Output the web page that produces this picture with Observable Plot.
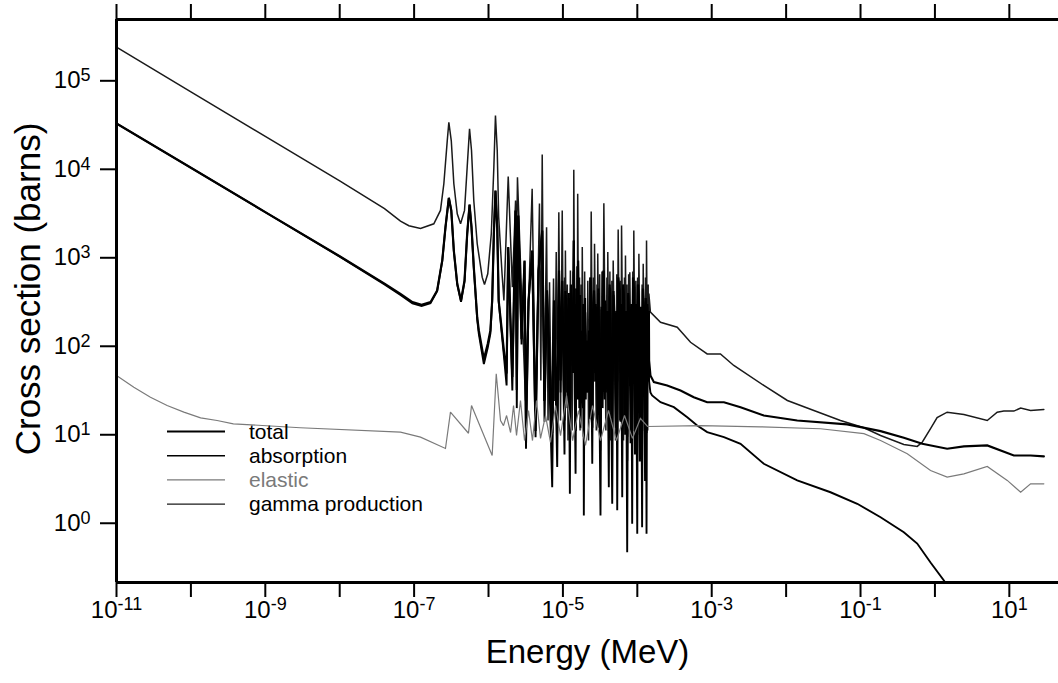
<!DOCTYPE html>
<html>
<head>
<meta charset="utf-8">
<script src="https://cdn.jsdelivr.net/npm/d3@7"></script>
<script src="https://cdn.jsdelivr.net/npm/@observablehq/plot@0.6"></script>
<style>
  html, body { margin: 0; padding: 0; background: #fff; }
  #chart svg { display: block; }
</style>
</head>
<body>
<div id="chart"></div>
<script>
// ---------------- data (energy in MeV, cross section in barns) ----------------
const xDomain = [1e-11, 45.8];
const yDomain = [0.214, 4.93e5];

const xTicks = [1e-11, 1e-10, 1e-9, 1e-8, 1e-7, 1e-6, 1e-5, 1e-4, 1e-3, 1e-2, 1e-1, 1, 1e1];
const xTickLabels = ["10^-11", "", "10^-9", "", "10^-7", "", "10^-5", "", "10^-3", "", "10^-1", "", "10^1"];
const yTicks = [1, 10, 100, 1e3, 1e4, 1e5];
const yTickLabels = ["10^0", "10^1", "10^2", "10^3", "10^4", "10^5"];

const xAxisLabel = "Energy (MeV)";
const yAxisLabel = "Cross section (barns)";
const legendNames = ["total", "absorption", "elastic", "gamma production"];

const gammaProduction = [
  [1e-11, 2.4e5], [1e-10, 7.5e4], [1e-9, 2.35e4], [1e-8, 7.4e3], [4e-8, 3.6e3], [6.56e-8, 2.6e3],
  [8.5e-8, 2.3e3], [1.22e-7, 2.14e3], [1.84e-7, 2.42e3], [2.26e-7, 3.43e3], [2.51e-7, 6.86e3], [2.79e-7, 2.11e4],
  [2.93e-7, 3.4e4], [3.16e-7, 2.1e4], [3.42e-7, 6.86e3], [3.8e-7, 3.14e3], [4.21e-7, 2.42e3],
  [4.76e-7, 3.43e3], [5.17e-7, 1.06e4], [5.56e-7, 2.87e4], [5.91e-7, 1.63e4], [6.34e-7, 4.44e3],
  [7.05e-7, 1.44e3], [8.22e-7, 604], [8.83e-7, 499], [9.77e-7, 660], [1.09e-6, 1.87e3],
  [1.18e-6, 1.06e4], [1.24e-6, 4.06e4], [1.31e-6, 1.63e4], [1.37e-6, 2.88e3], [1.52e-6, 660],
  [1.61e-6, 329], [1.84e-6, 8.3e3], [2.09e-6, 466], [2.31e-6, 4.44e3], [2.38e-6, 1.0e3],
  [2.45e-6, 8.15e3], [2.82e-6, 277], [3.14e-6, 24.4], [3.86e-6, 6.03e3], [4.29e-6, 14.5],
  [4.84e-6, 4.11e3], [5.05e-6, 41], [5.27e-6, 1.47e4], [5.57e-6, 24], [6.03e-6, 2.22e3],
  [6.31e-6, 14.5], [6.61e-6, 530], [7.03e-6, 8.6], [7.48e-6, 583], [7.78e-6, 24],
  [8.13e-6, 1.16e3], [8.45e-6, 18.8], [8.81e-6, 3.27e3], [9.29e-6, 14.5], [9.79e-6, 3.42e3],
  [1.03e-5, 11.2], [1.055e-5, 600], [1.065e-5, 40], [1.08e-5, 1.21e3], [1.12e-5, 30], [1.145e-5, 500],
  [1.17e-5, 8.6], [1.22e-5, 400], [1.24e-5, 30], [1.26e-5, 718], [1.33e-5, 11.2], [1.37e-5, 700],
  [1.38e-5, 60], [1.40e-5, 9.86e3], [1.45e-5, 30], [1.47e-5, 450], [1.49e-5, 14.5], [1.54e-5, 800],
  [1.56e-5, 50], [1.58e-5, 5.29e3], [1.64e-5, 25], [1.67e-5, 600], [1.70e-5, 11.2], [1.76e-5, 500],
  [1.79e-5, 40], [1.82e-5, 1.32e3], [1.91e-5, 6.65], [1.96e-5, 700], [1.99e-5, 45], [2.01e-5, 243],
  [2.11e-5, 30], [2.16e-5, 550], [2.21e-5, 8.6], [2.30e-5, 600], [2.35e-5, 40], [2.40e-5, 3.33e3],
  [2.52e-5, 14.5], [2.58e-5, 600], [2.62e-5, 40], [2.66e-5, 1.44e3], [2.81e-5, 11.2], [2.87e-5, 500],
  [2.90e-5, 35], [2.94e-5, 1.12e3], [3.05e-5, 30], [3.12e-5, 650], [3.20e-5, 6.65], [3.35e-5, 700],
  [3.45e-5, 40], [3.55e-5, 4.14e3], [3.78e-5, 11.2], [3.90e-5, 600], [3.95e-5, 50], [4.01e-5, 1.16e3],
  [4.18e-5, 30], [4.28e-5, 700], [4.36e-5, 8.6], [4.55e-5, 550], [4.65e-5, 40], [4.74e-5, 931],
  [5.09e-5, 8.6], [5.30e-5, 650], [5.42e-5, 40], [5.53e-5, 2.09e3], [5.82e-5, 14.5], [5.98e-5, 550],
  [6.06e-5, 45], [6.14e-5, 2.32e3], [6.53e-5, 8.6], [6.72e-5, 600], [6.82e-5, 40], [6.93e-5, 1.06e3],
  [7.15e-5, 30], [7.25e-5, 500], [7.38e-5, 5.1], [7.65e-5, 650], [7.78e-5, 45], [7.93e-5, 687],
  [8.43e-5, 8.6], [8.70e-5, 700], [8.85e-5, 50], [8.97e-5, 2.03e3], [9.35e-5, 30], [9.55e-5, 550],
  [9.75e-5, 6.65], [1.01e-4, 600], [1.03e-4, 45], [1.05e-4, 1.11e3], [1.12e-4, 6.65], [1.16e-4, 500],
  [1.18e-4, 40], [1.20e-4, 855], [1.26e-4, 8.6], [1.29e-4, 600], [1.31e-4, 40], [1.33e-4, 1.57e3],
  [1.38e-4, 11.2], [1.40e-4, 500], [1.41e-4, 60], [1.43e-4, 395], [1.50e-4, 243],
  [2.05e-4, 187], [3.44e-4, 164],
  [5.19e-4, 111], [8.69e-4, 82], [1.31e-3, 82], [1.98e-3, 60.7], [5.01e-3, 36.1],
  [1.04e-2, 24.4], [2.36e-2, 18.8], [5.38e-2, 14.5], [0.111, 12.0], [0.186, 9.8],
  [0.382, 7.76], [0.578, 7.38], [0.675, 8.24], [0.873, 11.7], [1.07, 15.6],
  [1.46, 18.0], [2.45, 16.9], [5.05, 14.5], [6.87, 18.0], [8.43, 18.5],
  [11.5, 18.5], [14.2, 20.0], [19.3, 18.8], [29.1, 19.3]
];

const total = [
  [1e-11, 3.3e4], [1e-10, 1.04e4], [1e-9, 3.28e3], [1e-8, 1.04e3], [4e-8, 510], [6.56e-8, 390],
  [9.5e-8, 315], [1.26e-7, 295], [1.66e-7, 315], [2.04e-7, 427], [2.39e-7, 933], [2.64e-7, 2.22e3],
  [2.93e-7, 4.76e3], [3.16e-7, 3.43e3], [3.42e-7, 1.2e3], [3.8e-7, 508], [4.27e-7, 329],
  [4.76e-7, 553], [5.17e-7, 1.87e3], [5.56e-7, 4.0e3], [5.91e-7, 2.22e3], [6.34e-7, 784],
  [7.05e-7, 213], [7.41e-7, 151], [8.66e-7, 72], [9.77e-7, 107], [1.06e-6, 151],
  [1.12e-6, 329], [1.18e-6, 1.87e3], [1.24e-6, 5.75e3], [1.31e-6, 2.22e3], [1.37e-6, 329],
  [1.61e-6, 90], [1.75e-6, 49], [1.84e-6, 1.32e3], [2.09e-6, 45], [2.31e-6, 3.43e3],
  [2.40e-6, 32], [2.51e-6, 3.01e3], [2.78e-6, 120], [3.05e-6, 930], [3.19e-6, 12],
  [3.45e-6, 330], [3.86e-6, 1.21e3], [4.29e-6, 11], [4.70e-6, 718], [5.27e-6, 2.03e3],
  [5.66e-6, 24.4], [6.11e-6, 428], [7.18e-6, 10.5], [7.59e-6, 330], [8.38e-6, 12],
  [8.87e-6, 718], [9.29e-6, 41], [9.79e-6, 550],
  [1.05e-5, 14.5], [1.08e-5, 420], [1.10e-5, 60], [1.12e-5, 254], [1.17e-5, 30], [1.20e-5, 350],
  [1.24e-5, 10], [1.28e-5, 500], [1.30e-5, 80], [1.32e-5, 196], [1.36e-5, 60], [1.40e-5, 1.57e3],
  [1.44e-5, 90], [1.46e-5, 300], [1.48e-5, 11], [1.54e-5, 450], [1.57e-5, 70], [1.60e-5, 931],
  [1.66e-5, 40], [1.70e-5, 380], [1.73e-5, 24.4], [1.80e-5, 150], [1.85e-5, 45], [1.88e-5, 300],
  [1.91e-5, 9.5], [1.98e-5, 350], [2.02e-5, 60], [2.07e-5, 116], [2.15e-5, 40], [2.24e-5, 151],
  [2.30e-5, 30], [2.36e-5, 600], [2.42e-5, 50], [2.48e-5, 12], [2.55e-5, 250], [2.62e-5, 428],
  [2.72e-5, 50], [2.76e-5, 300], [2.83e-5, 151], [2.90e-5, 35], [3.00e-5, 450], [3.08e-5, 60],
  [3.20e-5, 10], [3.30e-5, 280], [3.40e-5, 70], [3.52e-5, 718], [3.65e-5, 80], [3.70e-5, 330],
  [3.79e-5, 41], [3.95e-5, 250], [4.05e-5, 50], [4.14e-5, 11], [4.25e-5, 500], [4.36e-5, 196],
  [4.48e-5, 45], [4.60e-5, 12], [4.78e-5, 420], [4.94e-5, 196], [5.15e-5, 40], [5.25e-5, 250],
  [5.37e-5, 10.5], [5.55e-5, 600], [5.77e-5, 428], [5.95e-5, 50], [6.05e-5, 300], [6.27e-5, 11.5],
  [6.45e-5, 500], [6.62e-5, 330], [6.80e-5, 40], [7.05e-5, 250], [7.31e-5, 9.5], [7.55e-5, 400],
  [7.85e-5, 151], [8.10e-5, 45], [8.30e-5, 300], [8.53e-5, 11], [8.75e-5, 600], [9.04e-5, 428],
  [9.30e-5, 50], [9.60e-5, 300], [9.98e-5, 10], [1.02e-4, 500], [1.05e-4, 330], [1.08e-4, 50],
  [1.12e-4, 280], [1.16e-4, 11], [1.19e-4, 450], [1.23e-4, 196], [1.27e-4, 45], [1.30e-4, 350],
  [1.33e-4, 10.5], [1.36e-4, 300], [1.39e-4, 151], [1.41e-4, 40], [1.43e-4, 250], [1.44e-4, 69],
  [1.50e-4, 46.8],
  [1.67e-4, 39.3], [2.52e-4, 36.1], [3.81e-4, 31.7], [5.74e-4, 26.6], [8.69e-4, 23.3],
  [1.46e-3, 23.3], [2.44e-3, 20.5], [5.01e-3, 16.5], [1.41e-2, 14.5], [6.62e-2, 13.1],
  [0.186, 11.0], [0.382, 9.25], [0.675, 7.91], [1.46, 6.95], [2.45, 7.38],
  [5.05, 7.57], [11.5, 5.83], [19.3, 5.83], [29.1, 5.69]
];

const absorption = [
  [1e-11, 3.29e4], [1e-10, 1.04e4], [1e-9, 3.27e3], [1e-8, 1.03e3], [4e-8, 500], [6.56e-8, 380],
  [9.5e-8, 306], [1.26e-7, 286], [1.66e-7, 306], [2.04e-7, 419], [2.39e-7, 925], [2.64e-7, 2.21e3],
  [2.93e-7, 4.74e3], [3.16e-7, 3.41e3], [3.42e-7, 1.19e3], [3.8e-7, 498], [4.27e-7, 318],
  [4.76e-7, 540], [5.17e-7, 1.85e3], [5.56e-7, 3.98e3], [5.91e-7, 2.2e3], [6.34e-7, 772],
  [7.05e-7, 200], [7.41e-7, 138], [8.66e-7, 63], [9.77e-7, 97], [1.06e-6, 140],
  [1.12e-6, 320], [1.18e-6, 1.85e3], [1.24e-6, 5.7e3], [1.31e-6, 2.2e3], [1.37e-6, 318],
  [1.61e-6, 78], [1.75e-6, 36], [1.84e-6, 1.3e3], [2.09e-6, 31.6], [2.31e-6, 3.4e3],
  [2.40e-6, 20], [2.51e-6, 2.99e3], [2.78e-6, 105], [3.05e-6, 915], [3.19e-6, 6.95],
  [3.45e-6, 318], [3.86e-6, 1.2e3], [4.29e-6, 9.4], [4.70e-6, 705], [5.27e-6, 2.02e3],
  [5.66e-6, 14], [6.11e-6, 415], [7.18e-6, 2.56], [7.59e-6, 318], [8.38e-6, 4.31],
  [8.87e-6, 705], [9.29e-6, 30], [9.79e-6, 538],
  [1.05e-5, 6], [1.09e-5, 380], [1.12e-5, 242], [1.15e-5, 20], [1.19e-5, 400], [1.24e-5, 2.15],
  [1.28e-5, 460], [1.32e-5, 185], [1.36e-5, 50], [1.40e-5, 1.56e3], [1.44e-5, 30], [1.48e-5, 3.62],
  [1.52e-5, 300], [1.56e-5, 25], [1.60e-5, 920], [1.66e-5, 20], [1.69e-5, 350], [1.73e-5, 12],
  [1.80e-5, 140], [1.86e-5, 20], [1.89e-5, 280], [1.91e-5, 1.22], [1.96e-5, 260], [2.03e-5, 25],
  [2.07e-5, 105], [2.15e-5, 30], [2.24e-5, 140], [2.31e-5, 15], [2.36e-5, 550], [2.48e-5, 4.7],
  [2.55e-5, 230], [2.62e-5, 415], [2.72e-5, 40], [2.78e-5, 280], [2.83e-5, 140], [2.92e-5, 12],
  [3.00e-5, 400], [3.20e-5, 1.22], [3.30e-5, 260], [3.42e-5, 20], [3.52e-5, 705], [3.65e-5, 25],
  [3.72e-5, 300], [3.79e-5, 30], [3.95e-5, 238], [4.14e-5, 2.56], [4.25e-5, 460], [4.36e-5, 185],
  [4.60e-5, 1.66], [4.78e-5, 380], [4.94e-5, 185], [5.15e-5, 12], [5.25e-5, 230], [5.37e-5, 1.40],
  [5.55e-5, 550], [5.77e-5, 415], [5.95e-5, 14], [6.05e-5, 280], [6.27e-5, 1.97], [6.45e-5, 460],
  [6.62e-5, 318], [6.85e-5, 10], [7.05e-5, 230], [7.31e-5, 0.47], [7.55e-5, 380], [7.85e-5, 140],
  [8.10e-5, 8], [8.30e-5, 280], [8.53e-5, 0.99], [8.75e-5, 550], [9.04e-5, 415], [9.30e-5, 6],
  [9.60e-5, 280], [9.98e-5, 0.76], [1.02e-4, 460], [1.05e-4, 318], [1.08e-4, 5], [1.12e-4, 260],
  [1.16e-4, 0.90], [1.19e-4, 420], [1.23e-4, 185], [1.27e-4, 3], [1.30e-4, 320], [1.33e-4, 0.76],
  [1.36e-4, 280], [1.39e-4, 140], [1.44e-4, 40], [1.50e-4, 30],
  [1.58e-4, 27.8], [2.05e-4, 23.3], [3.10e-4, 20.5], [4.69e-4, 15.8], [6.38e-4, 12.7],
  [8.69e-4, 10.7], [1.46e-3, 9.4], [2.44e-3, 7.91], [5.01e-3, 4.70], [1.41e-2, 3.05],
  [3.95e-2, 2.24], [9.04e-2, 1.66], [0.186, 1.17], [0.382, 0.79], [0.578, 0.59],
  [0.873, 0.36], [1.32, 0.226], [1.89, 0.134]
];

const elastic = [
  [1e-11, 46.7], [1.71e-11, 34.5], [2.86e-11, 26.6], [4.79e-11, 21.4], [8.04e-11, 18.0],
  [1.35e-10, 15.5], [2.25e-10, 14.5], [3.72e-10, 13.3], [2.95e-9, 12.0],
  [6.56e-8, 10.7], [1.22e-7, 9.4], [2.64e-7, 7.0], [3.08e-7, 18.0], [5.38e-7, 10.4],
  [5.91e-7, 21.4], [1.12e-6, 5.83], [1.27e-6, 48.9], [1.45e-6, 14.5], [1.59e-6, 12.7],
  [1.75e-6, 16.5], [1.98e-6, 10.6], [2.17e-6, 21.4], [2.38e-6, 9.8], [2.69e-6, 24.4],
  [3.05e-6, 8.6], [3.45e-6, 18.8], [3.90e-6, 8.6], [4.42e-6, 24.4], [5.00e-6, 9.1],
  [5.84e-6, 16.5], [6.81e-6, 8.2], [7.96e-6, 21.4], [9.29e-6, 9.8], [1.12e-5, 27.8],
  [1.35e-5, 8.6], [1.62e-5, 18.8], [2.01e-5, 7.57], [2.50e-5, 21.4], [3.20e-5, 8.6],
  [4.10e-5, 18.8], [5.25e-5, 8.6], [6.73e-5, 16.5], [8.61e-5, 9.1], [1.10e-4, 15.3],
  [1.37e-4, 12.4], [7.06e-4, 12.7], [4.53e-3, 12.3], [2.90e-2, 11.7], [0.111, 10.3],
  [0.186, 8.6], [0.425, 6.1], [0.873, 3.95], [1.46, 3.32], [2.45, 3.62],
  [5.05, 4.39], [9.38, 3.05], [14.2, 2.24], [19.3, 2.79], [29.1, 2.79]
];

// ---------------- styles ----------------
const FONT = "Helvetica, 'Liberation Sans', Arial, sans-serif";
const seriesStyle = {
  "total":            {stroke: "#000", width: 2.2, text: "#000"},
  "absorption":       {stroke: "#000", width: 1.9, text: "#000"},
  "elastic":          {stroke: "#7a7a7a", width: 1.2, text: "#7a7a7a"},
  "gamma production": {stroke: "#1a1a1a", width: 1.5, text: "#000"}
};

const xLabelMap = new Map(xTicks.map((t, i) => [t, xTickLabels[i]]));
const yLabelMap = new Map(yTicks.map((t, i) => [t, yTickLabels[i]]));
const line = (data, name) => Plot.line(data, {
  x: d => d[0], y: d => d[1], clip: true,
  stroke: seriesStyle[name].stroke, strokeWidth: seriesStyle[name].width,
  strokeLinejoin: "miter", strokeMiterlimit: 2
});

const chart = Plot.plot({
  width: 1058,
  height: 683,
  marginLeft: 116,
  marginRight: 0,
  marginTop: 19,
  marginBottom: 101,
  style: {fontFamily: FONT, fontSize: "24px", background: "#fff", color: "#000", overflow: "visible"},
  x: {type: "log", domain: xDomain},
  y: {type: "log", domain: yDomain},
  marks: [
    Plot.axisX({ticks: xTicks, anchor: "bottom", tickSize: 15, tickPadding: 3, strokeWidth: 2, fontSize: 24,
      tickFormat: d => xLabelMap.get(d) ?? "", label: null}),
    Plot.axisX({ticks: xTicks, anchor: "top", tickSize: 16, strokeWidth: 2,
      tickFormat: () => "", label: null}),
    Plot.axisY({ticks: yTicks, anchor: "left", tickSize: 16, tickPadding: 10, strokeWidth: 2, fontSize: 24,
      tickFormat: d => yLabelMap.get(d) ?? "", label: null}),
    line(gammaProduction, "gamma production"),
    line(total, "total"),
    line(absorption, "absorption"),
    line(elastic, "elastic"),
    Plot.ruleX([xDomain[0]], {stroke: "#000", strokeWidth: 3}),
    Plot.ruleY(yDomain, {stroke: "#000", strokeWidth: 3}),
    Plot.text([xAxisLabel], {text: d => d, frameAnchor: "bottom", dy: 80, fontSize: 33, fill: "#000", textAnchor: "middle"}),
    Plot.text([yAxisLabel], {text: d => d, frameAnchor: "left", dx: -88, dy: -12, rotate: -90, fontSize: 35, fill: "#000", textAnchor: "middle"})
  ]
});

// superscript exponents on tick labels
chart.querySelectorAll("text").forEach(t => {
  const m = /^10\^(.+)$/.exec(t.textContent);
  if (!m) return;
  t.textContent = "";
  t.setAttribute("font-size", "24px");
  const ns = "http://www.w3.org/2000/svg";
  const base = document.createElementNS(ns, "tspan");
  base.textContent = "10";
  const sup = document.createElementNS(ns, "tspan");
  sup.setAttribute("font-size", "18px");
  sup.setAttribute("dy", "-0.4em");
  sup.textContent = m[1];
  t.appendChild(base);
  t.appendChild(sup);
});

// legend inside the plot area
const svg = d3.select(chart);
const lg = svg.append("g").attr("font-family", FONT).attr("font-size", 21).attr("text-anchor", "start");
legendNames.forEach((name, i) => {
  const y = 431.5 + i * 24.2;
  lg.append("line").attr("x1", 167).attr("x2", 225).attr("y1", y).attr("y2", y)
    .attr("stroke", seriesStyle[name].stroke).attr("stroke-width", Math.max(1.3, seriesStyle[name].width - 0.4));
  lg.append("text").attr("x", 249).attr("y", y).attr("dy", "0.35em").attr("text-anchor", "start")
    .attr("fill", seriesStyle[name].text).text(name);
});

document.getElementById("chart").appendChild(chart);
</script>
</body>
</html>
